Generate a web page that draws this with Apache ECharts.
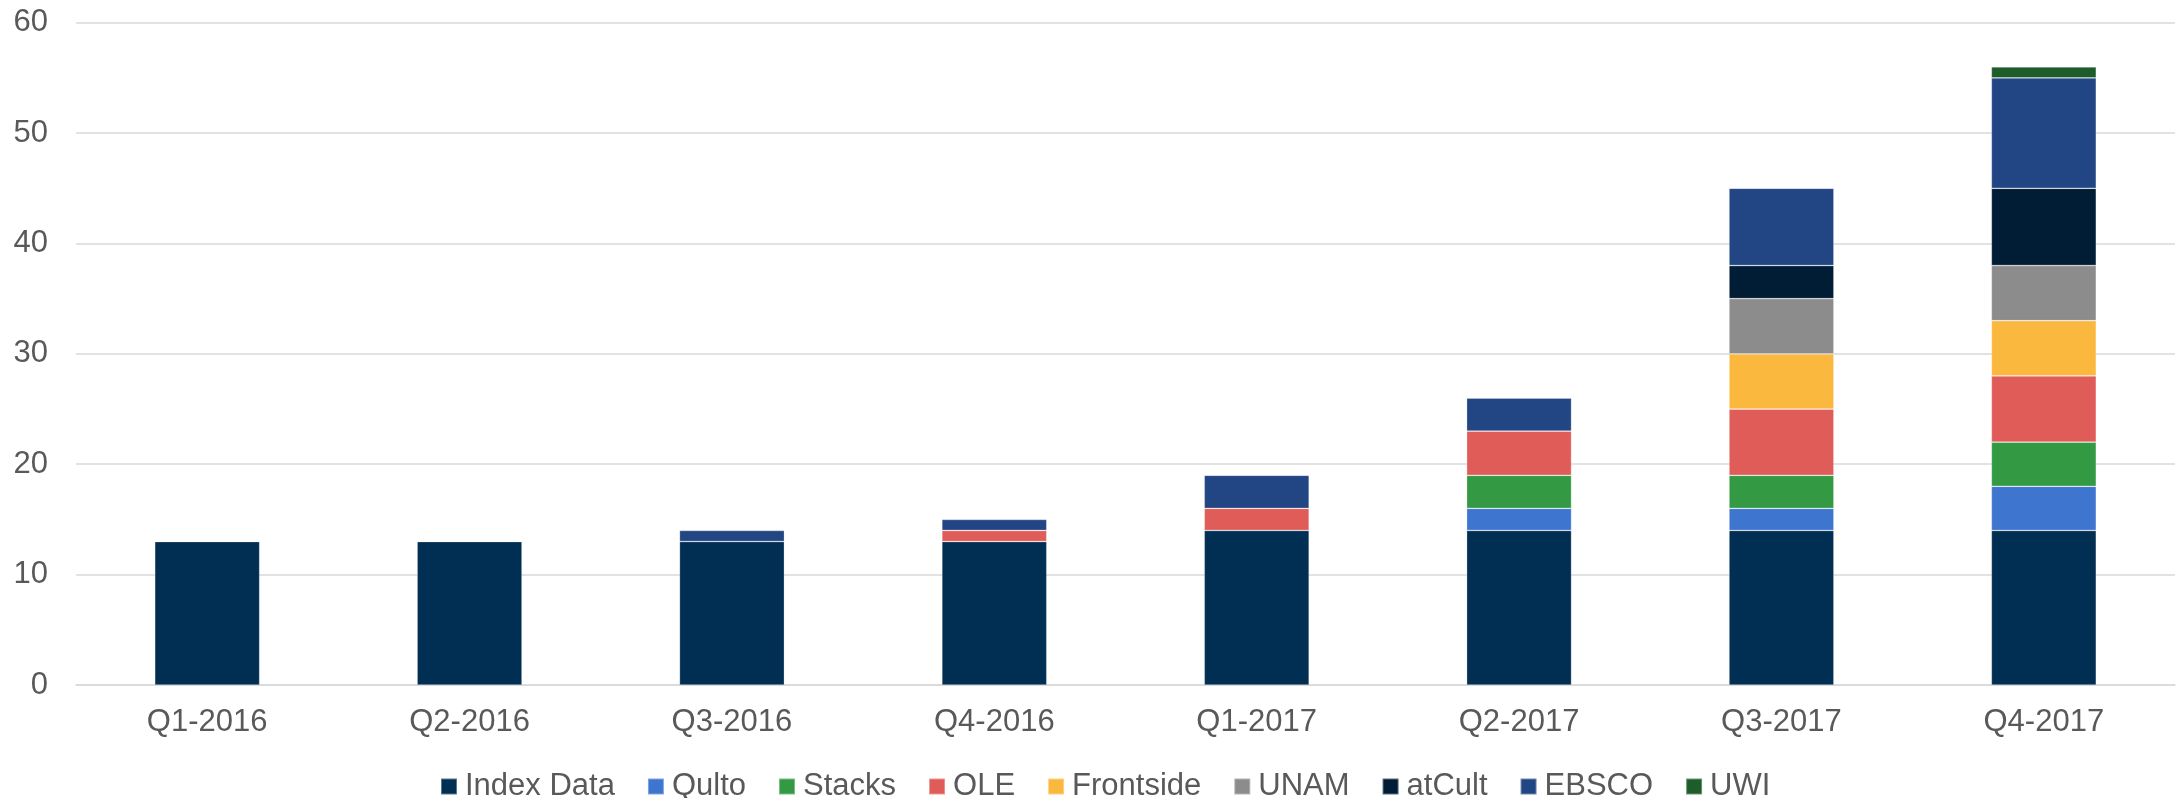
<!DOCTYPE html>
<html>
<head>
<meta charset="utf-8">
<script src="https://cdn.jsdelivr.net/npm/echarts@6/dist/echarts.min.js"></script>
<style>
html,body{margin:0;padding:0;background:#fff;}
#chart{width:2176px;height:798px;}
</style>
</head>
<body>
<div id="chart"></div>
<script>
const categories = ['Q1-2016','Q2-2016','Q3-2016','Q4-2016','Q1-2017','Q2-2017','Q3-2017','Q4-2017'];
const seriesNames = ['Index Data','Qulto','Stacks','OLE','Frontside','UNAM','atCult','EBSCO','UWI'];
const indexData = [13,13,13,13,14,14,14,14];
const qulto     = [0,0,0,0,0,2,2,4];
const stacks    = [0,0,0,0,0,3,3,4];
const ole       = [0,0,0,1,2,4,6,6];
const frontside = [0,0,0,0,0,0,5,5];
const unam      = [0,0,0,0,0,0,5,5];
const atcult    = [0,0,0,0,0,0,3,7];
const ebsco     = [0,0,1,1,3,3,7,10];
const uwi       = [0,0,0,0,0,0,0,1];
const yTicks = [0,10,20,30,40,50,60];
const colors = ['#012E53','#3E75CF','#339A43','#E05C58','#FBB83F','#8C8C8C','#001D35','#224583','#1E5C2A'];

const values = [indexData,qulto,stacks,ole,frontside,unam,atcult,ebsco,uwi];
const font = '"Liberation Sans", Arial, sans-serif';
const chart = echarts.init(document.getElementById('chart'));
chart.setOption({
  animation:false,
  color:colors,
  grid:{left:76,right:1,top:22.7,bottom:113,containLabel:false},
  legend:{
    left:435, top:766,
    itemWidth:16,itemHeight:16,itemGap:32,
    icon:'rect',
    textStyle:{fontFamily:font,fontSize:31,color:'#595959',padding:[0,0,0,3]},
    data:seriesNames
  },
  xAxis:{
    type:'category',data:categories,
    axisLine:{lineStyle:{color:'#D9D9D9',width:1.5}},
    axisTick:{show:false},
    axisLabel:{fontFamily:font,fontSize:31,color:'#595959',margin:22}
  },
  yAxis:{
    type:'value',min:yTicks[0],max:yTicks[yTicks.length-1],interval:10,
    axisLine:{show:false},axisTick:{show:false},
    splitLine:{lineStyle:{color:'#D9D9D9',width:1.5}},
    axisLabel:{fontFamily:font,fontSize:31,color:'#595959',margin:28}
  },
  series:seriesNames.map((n,i)=>({
    name:n,type:'bar',stack:'total',barWidth:'40%',
    data:values[i].map(v=>v===0?null:v),
    itemStyle:{borderColor:'rgba(255,255,255,0.35)',borderWidth:0.75}
  }))
});
</script>
</body>
</html>
